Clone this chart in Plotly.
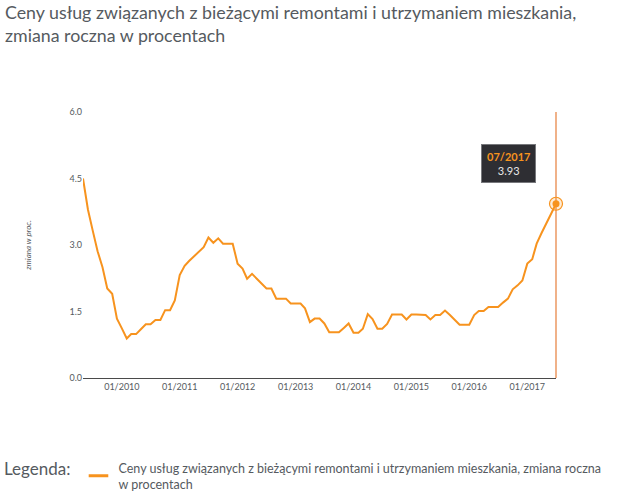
import plotly.graph_objects as go
import pandas as pd

# ---- data ----
start_month = "2009-05-01"
values = [
    4.50, 3.80, 3.33, 2.86, 2.50, 2.02, 1.90, 1.34, 1.12, 0.89,
    0.99, 0.99, 1.10, 1.21, 1.21, 1.31, 1.31, 1.53, 1.53, 1.75,
    2.32, 2.53, 2.64, 2.74, 2.85, 2.95, 3.17, 3.05, 3.15, 3.03,
    3.03, 3.03, 2.58, 2.47, 2.24, 2.35, 2.24, 2.13, 2.02, 2.02,
    1.79, 1.79, 1.79, 1.68, 1.68, 1.68, 1.57, 1.26, 1.34, 1.34,
    1.23, 1.03, 1.03, 1.03, 1.13, 1.23, 1.02, 1.02, 1.11, 1.44,
    1.33, 1.11, 1.11, 1.22, 1.43, 1.43, 1.43, 1.32, 1.43, 1.43,
    1.43, 1.42, 1.32, 1.42, 1.42, 1.52, 1.42, 1.30, 1.20, 1.20,
    1.20, 1.42, 1.51, 1.51, 1.60, 1.60, 1.60, 1.70, 1.79, 2.00,
    2.09, 2.20, 2.58, 2.68, 3.03, 3.27, 3.47, 3.71, 3.93,
]
dates = pd.date_range(start_month, periods=len(values), freq="MS")
x_tick_dates = [f"{y}-01-01" for y in range(2010, 2018)]
y_ticks = [0, 1.5, 3.0, 4.5, 6.0]
title_text = "Ceny usług związanych z bieżącymi remontami i utrzymaniem mieszkania,<br>zmiana roczna w procentach"
series_name = "Ceny usług związanych z bieżącymi remontami i utrzymaniem mieszkania, zmiana roczna<br>w procentach"
y_title = "zmiana w proc."

ORANGE = "#f7931e"
GRAY = "#555a60"
FONT = "Lato"

fig = go.Figure()
fig.add_trace(go.Scatter(
    x=dates, y=values, mode="lines",
    line=dict(color=ORANGE, width=2),
    showlegend=False, hoverinfo="skip",
))
# highlighted last point
last_x, last_y = dates[-1], values[-1]
fig.add_trace(go.Scatter(
    x=[last_x], y=[last_y], mode="markers", cliponaxis=False,
    marker=dict(size=13, color="rgba(247,147,30,0.18)", line=dict(color=ORANGE, width=1.2)),
    showlegend=False, hoverinfo="skip",
))
fig.add_trace(go.Scatter(
    x=[last_x], y=[last_y], mode="markers", cliponaxis=False,
    marker=dict(size=7, color=ORANGE),
    showlegend=False, hoverinfo="skip",
))
# legend-only entry
fig.add_trace(go.Scatter(
    x=[None], y=[None], mode="markers", name=series_name,
    marker=dict(symbol="line-ew-open", size=14, color=ORANGE, line=dict(color=ORANGE, width=3)),
))

# crosshair at the last point (x axis range ends at the last date -> paper x = 1)
fig.add_shape(type="line", xref="paper", x0=1, x1=1, yref="paper", y0=0, y1=1,
              line=dict(color="#e67e3a", width=1.2), layer="below")

fig.add_annotation(
    x=last_x, y=last_y, xref="x", yref="y", showarrow=False,
    xanchor="right", yanchor="bottom", xshift=-20, yshift=21,
    text=f"<b><span style='color:{ORANGE}'>{last_x.strftime('%m/%Y')}</span></b><br>{last_y:.2f}",
    font=dict(family=FONT, size=11, color="#e6e6e6"),
    bgcolor="#2e2e33", bordercolor="#77787c", borderwidth=1, borderpad=5,
    align="center",
)

fig.update_layout(
    width=640, height=501,
    margin=dict(l=83, r=84, t=112, b=123),
    paper_bgcolor="white", plot_bgcolor="white",
    font=dict(family=FONT, color=GRAY),
    title=dict(text=title_text, x=5/640, xanchor="left", xref="container",
               y=1-19/501, yanchor="top", yref="container",
               font=dict(family=FONT, size=17.8, color=GRAY)),
    legend=dict(
        orientation="h", xref="container", yref="container",
        x=2/640, xanchor="left", y=1-453/501, yanchor="top",
        title=dict(text="Legenda:", side="left", font=dict(family=FONT, size=17, color=GRAY)),
        font=dict(family=FONT, size=12.5, color=GRAY),
    ),
    xaxis=dict(
        range=[dates[0], dates[-1]], tickvals=x_tick_dates, tickformat="%m/%Y",
        showgrid=False, zeroline=False, showline=True, linecolor="#4a4a4a", linewidth=1,
        ticks="", tickfont=dict(family=FONT, size=9, color=GRAY),
    ),
    yaxis=dict(
        range=[0, 6], tickvals=y_ticks, tickformat=".1f",
        showgrid=False, zeroline=False, showline=False, ticks="",
        tickfont=dict(family=FONT, size=9, color=GRAY),
        title=dict(text=f"<i>{y_title}</i>", font=dict(family=FONT, size=8, color=GRAY), standoff=36),
    ),
)

fig.write_html("out.html", config={"displayModeBar": False},
               post_script="document.body.style.margin='0';")
